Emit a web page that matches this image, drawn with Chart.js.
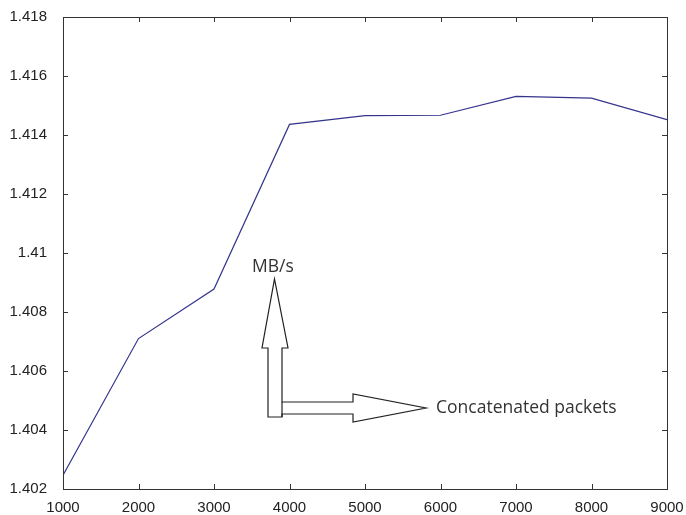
<!DOCTYPE html>
<html>
<head>
<meta charset="utf-8">
<script src="https://cdn.jsdelivr.net/npm/chart.js@4"></script>
<style>
  body { margin: 0; background: #fff; }
  #wrap { width: 686px; height: 515px; }
</style>
</head>
<body>
<div id="wrap"><canvas id="myChart" width="686" height="515"></canvas></div>
<script>
// data
const packets = [1000, 2000, 3000, 4000, 5000, 6000, 7000, 8000, 9000]
const rate = [1.40247, 1.4071, 1.40878, 1.41436, 1.41466, 1.41467, 1.41531, 1.41525, 1.41452]

const xTicks = [1000, 2000, 3000, 4000, 5000, 6000, 7000, 8000, 9000]
const yTicks = [1.402, 1.404, 1.406, 1.408, 1.41, 1.412, 1.414, 1.416, 1.418]

const lineColor = '#34348c'

// matlab style box with ticks pointing inwards + the hand drawn arrows
const boxPlugin = {
  id: 'box',
  afterDraw(chart) {
    const ctx = chart.ctx
    const a = chart.chartArea
    const xs = chart.scales.x
    const ys = chart.scales.y
    ctx.save()
    ctx.strokeStyle = '#333'
    ctx.lineWidth = 1
    ctx.strokeRect(Math.round(a.left) + 0.5, Math.round(a.top) + 0.5,
      Math.round(a.right - a.left), Math.round(a.bottom - a.top))

    ctx.beginPath()
    xTicks.forEach(v => {
      const px = Math.round(xs.getPixelForValue(v)) + 0.5
      ctx.moveTo(px, a.bottom); ctx.lineTo(px, a.bottom - 5)
      ctx.moveTo(px, a.top); ctx.lineTo(px, a.top + 5)
    })
    yTicks.forEach(v => {
      const py = Math.round(ys.getPixelForValue(v)) + 0.5
      ctx.moveTo(a.left, py); ctx.lineTo(a.left + 5, py)
      ctx.moveTo(a.right, py); ctx.lineTo(a.right - 5, py)
    })
    ctx.stroke()

    // arrows (annotation, not data)
    ctx.strokeStyle = '#222'
    ctx.lineWidth = 1.2
    ctx.fillStyle = '#fff'
    ctx.beginPath()
    ctx.moveTo(268, 417)
    ctx.lineTo(268, 348)
    ctx.lineTo(262, 348)
    ctx.lineTo(274.5, 279)
    ctx.lineTo(288, 348)
    ctx.lineTo(282, 348)
    ctx.lineTo(282, 402)
    ctx.lineTo(353, 402)
    ctx.lineTo(353, 394)
    ctx.lineTo(426, 408)
    ctx.lineTo(353, 422)
    ctx.lineTo(353, 414)
    ctx.lineTo(282, 414)
    ctx.lineTo(282, 417)
    ctx.closePath()
    ctx.fill()
    ctx.stroke()
    ctx.beginPath()
    ctx.moveTo(282, 402); ctx.lineTo(282, 417)
    ctx.stroke()

    ctx.fillStyle = '#333'
    ctx.font = '17.5px "Open Sans", "Noto Sans", sans-serif'
    ctx.textBaseline = 'middle'
    ctx.textAlign = 'left'
    ctx.fillText('MB/s', 252, 267)
    ctx.fillText('Concatenated packets', 436, 408)
    ctx.restore()
  }
}

const ctx = document.getElementById('myChart').getContext('2d')
const myChart = new Chart(ctx, {
  type: 'line',
  data: {
    datasets: [{
      data: packets.map((p, i) => ({ x: p, y: rate[i] })),
      borderColor: lineColor,
      borderWidth: 1.2,
      pointRadius: 0,
      tension: 0,
      fill: false
    }]
  },
  options: {
    responsive: false,
    animation: false,
    layout: { padding: { top: 15, right: 19, left: 0, bottom: 0 } },
    plugins: {
      legend: { display: false },
      tooltip: { enabled: false },
      title: { display: false }
    },
    scales: {
      x: {
        type: 'linear',
        min: 1000,
        max: 9000,
        afterBuildTicks: s => { s.ticks = xTicks.map(v => ({ value: v })) },
        afterFit: s => { s.height = 26 },
        grid: { display: false },
        border: { display: false },
        ticks: {
          color: '#222',
          padding: 2,
          maxRotation: 0,
          autoSkip: false,
          font: { family: '"Liberation Sans", Arial, sans-serif', size: 15 },
          callback: v => String(v)
        }
      },
      y: {
        type: 'linear',
        min: 1.402,
        max: 1.418,
        afterBuildTicks: s => { s.ticks = yTicks.map(v => ({ value: v })) },
        afterFit: s => { s.width = 63 },
        grid: { display: false },
        border: { display: false },
        ticks: {
          color: '#222',
          padding: 8,
          autoSkip: false,
          font: { family: '"Liberation Sans", Arial, sans-serif', size: 15 },
          callback: v => String(Number(v.toFixed(3)))
        }
      }
    }
  },
  plugins: [boxPlugin]
})
</script>
</body>
</html>
